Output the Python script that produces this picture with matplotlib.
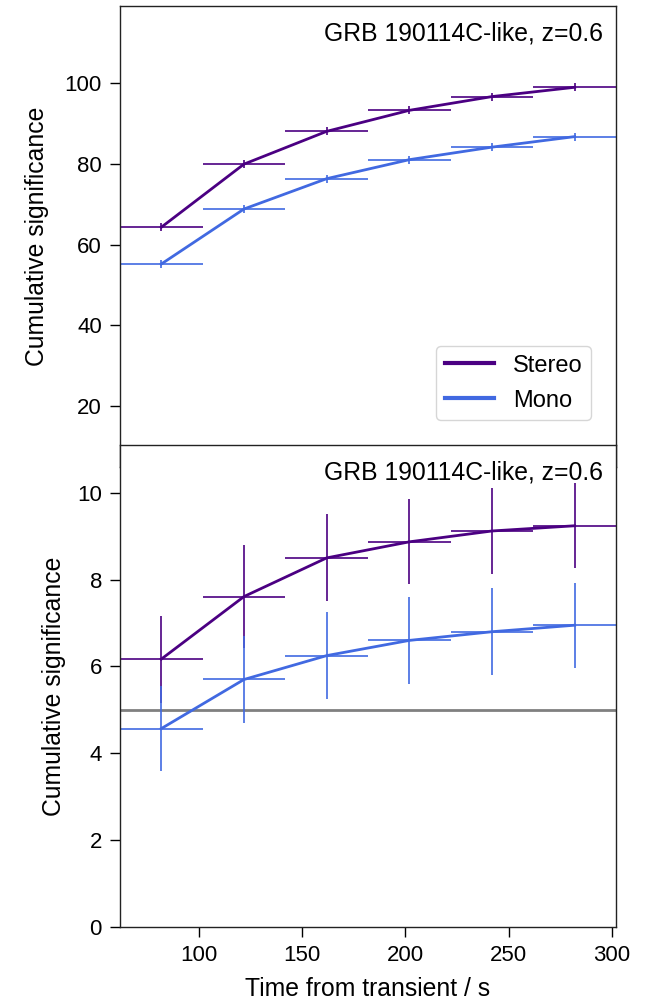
import matplotlib
matplotlib.use("Agg")
import matplotlib.pyplot as plt
import numpy as np
from matplotlib.lines import Line2D

plt.rcParams['font.family'] = ['Liberation Sans', 'DejaVu Sans']
plt.rcParams['font.size'] = 16

# Data
time_centers = [82, 122, 162, 202, 242, 282]
time_halfwidth = [20, 20, 20, 20, 20, 20]

top_stereo = [64.3, 79.9, 88.0, 93.2, 96.6, 98.9]
top_stereo_err = [1.0, 1.0, 1.0, 1.0, 1.0, 1.0]
top_mono = [55.2, 68.8, 76.3, 81.0, 84.1, 86.7]
top_mono_err = [1.0, 1.0, 1.0, 1.0, 1.0, 1.0]

bot_stereo = [6.17, 7.61, 8.50, 8.87, 9.12, 9.24]
bot_stereo_err = [1.0, 1.18, 1.0, 0.98, 0.98, 0.98]
bot_mono = [4.57, 5.70, 6.25, 6.60, 6.80, 6.95]
bot_mono_err = [0.98, 1.0, 1.0, 1.0, 1.0, 0.98]

threshold = 5
label_text = "GRB 190114C-like, z=0.6"
series_names = ["Stereo", "Mono"]
colors = {"Stereo": "#4b0082", "Mono": "#4169e1"}

W, H = 659, 1001
fig = plt.figure(figsize=(W / 100, H / 100), dpi=100)

def px_axes(x0, y0, x1, y1):
    return [x0 / W, (H - y1) / H, (x1 - x0) / W, (y1 - y0) / H]

ax_top = fig.add_axes(px_axes(120, 6, 616, 467))
ax_bot = fig.add_axes(px_axes(120, 445, 616, 927))
ax_bot.set_zorder(2)
ax_bot.patch.set_facecolor('white')

LABEL_FS = 17.8

def style(ax):
    for s in ax.spines.values():
        s.set_linewidth(1.0)
        s.set_color('#222222')
    ax.tick_params(direction='out', length=7, width=1, pad=6, labelsize=16)

for ax, st, ste, mo, moe, lp in [(ax_top, top_stereo, top_stereo_err, top_mono, top_mono_err, 11),
                                  (ax_bot, bot_stereo, bot_stereo_err, bot_mono, bot_mono_err, 8)]:
    ax.errorbar(time_centers, st, xerr=time_halfwidth, yerr=ste, fmt='-',
                color=colors["Stereo"], lw=2, elinewidth=1.2, capsize=0)
    ax.errorbar(time_centers, mo, xerr=time_halfwidth, yerr=moe, fmt='-',
                color=colors["Mono"], lw=2, elinewidth=1.2, capsize=0)
    ax.set_xlim(62, 302)
    ax.set_ylabel("Cumulative significance", fontsize=LABEL_FS, labelpad=lp)
    style(ax)

ax_top.set_ylim(5, 119)
ax_top.set_yticks([20, 40, 60, 80, 100])
ax_top.tick_params(axis='x', labelbottom=False, bottom=False)
ax_top.text(0.974, 0.941, label_text, transform=ax_top.transAxes,
            ha='right', va='center', fontsize=LABEL_FS)

ax_bot.axhline(threshold, color='gray', lw=2, zorder=1)
ax_bot.set_ylim(0, 11.1)
ax_bot.set_yticks([0, 2, 4, 6, 8, 10])
ax_bot.set_xticks([100, 150, 200, 250, 300])
ax_bot.set_xlabel("Time from transient / s", fontsize=LABEL_FS, labelpad=8)
ax_bot.text(0.974, 0.942, label_text, transform=ax_bot.transAxes,
            ha='right', va='center', fontsize=LABEL_FS)

handles = [Line2D([], [], color=colors[n], lw=3) for n in series_names]
leg = ax_top.legend(handles, series_names, loc='lower right',
                    bbox_to_anchor=(591 / W, (H - 420) / H),
                    bbox_transform=fig.transFigure, fontsize=17,
                    handlelength=2.1, frameon=True, fancybox=True,
                    borderaxespad=0, borderpad=0.35, labelspacing=0.55,
                    handletextpad=0.8)
leg.get_frame().set_edgecolor('#cccccc')

fig.savefig("out.png", dpi=100)
